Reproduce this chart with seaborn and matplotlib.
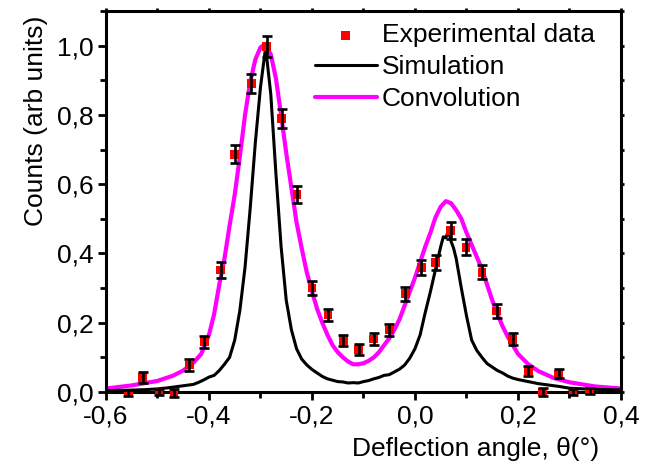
import numpy as np
import pandas as pd
import matplotlib
matplotlib.use("Agg")
import matplotlib.pyplot as plt
from matplotlib.ticker import MultipleLocator, FuncFormatter
import seaborn as sns

# experimental points
exp_x = [-0.557, -0.529, -0.497, -0.468, -0.438, -0.409, -0.377, -0.350, -0.318, -0.288,
         -0.259, -0.229, -0.200, -0.169, -0.139, -0.109, -0.080, -0.050, -0.019, 0.012,
         0.040, 0.069, 0.099, 0.130, 0.159, 0.190, 0.220, 0.248, 0.279, 0.307, 0.339]
exp_y = [-0.003, 0.042, 0.000, -0.003, 0.078, 0.145, 0.352, 0.686, 0.891, 0.998,
         0.790, 0.570, 0.300, 0.222, 0.148, 0.123, 0.153, 0.179, 0.284, 0.359,
         0.373, 0.466, 0.418, 0.346, 0.234, 0.152, 0.061, 0.000, 0.052, 0.000, 0.003]
exp_err = [0.010, 0.016, 0.010, 0.012, 0.017, 0.018, 0.022, 0.026, 0.028, 0.030,
           0.027, 0.025, 0.020, 0.018, 0.016, 0.016, 0.016, 0.017, 0.020, 0.022,
           0.022, 0.024, 0.023, 0.021, 0.019, 0.017, 0.014, 0.012, 0.013, 0.010, 0.008]

# simulation curve
sim_x = [-0.60, -0.56, -0.52, -0.50, -0.48, -0.46, -0.45, -0.44, -0.43, -0.42,
         -0.41, -0.40, -0.39, -0.38, -0.37, -0.36, -0.35, -0.34, -0.33, -0.32,
         -0.31, -0.30, -0.29, -0.28, -0.27, -0.26, -0.25, -0.24, -0.23, -0.22,
         -0.21, -0.20, -0.19, -0.18, -0.17, -0.16, -0.15, -0.14, -0.13, -0.12,
         -0.11, -0.10, -0.09, -0.08, -0.07, -0.06, -0.05, -0.04, -0.03, -0.02,
         -0.01, 0.00, 0.01, 0.02, 0.03, 0.04, 0.05, 0.055, 0.06, 0.065,
         0.07, 0.075, 0.08, 0.09, 0.10, 0.11, 0.12, 0.13, 0.14, 0.15,
         0.16, 0.17, 0.18, 0.19, 0.20, 0.22, 0.24, 0.26, 0.28, 0.30,
         0.34, 0.40]
sim_y = [0.004, 0.005, 0.007, 0.009, 0.012, 0.016, 0.018, 0.020, 0.022, 0.028,
         0.035, 0.043, 0.048, 0.062, 0.080, 0.100, 0.150, 0.236, 0.360, 0.530,
         0.720, 0.880, 0.995, 0.860, 0.630, 0.420, 0.265, 0.180, 0.125, 0.095,
         0.078, 0.065, 0.055, 0.045, 0.038, 0.034, 0.030, 0.029, 0.026, 0.027,
         0.026, 0.030, 0.033, 0.038, 0.042, 0.048, 0.050, 0.058, 0.066, 0.078,
         0.098, 0.125, 0.165, 0.230, 0.290, 0.355, 0.420, 0.448, 0.445, 0.467,
         0.435, 0.415, 0.385, 0.300, 0.220, 0.150, 0.120, 0.100, 0.082, 0.072,
         0.062, 0.055, 0.046, 0.040, 0.036, 0.030, 0.024, 0.020, 0.016, 0.011,
         0.008, 0.006]

# convolution curve
conv_x = [-0.60, -0.55, -0.50, -0.47, -0.45, -0.43, -0.415, -0.40, -0.39, -0.38,
          -0.37, -0.36, -0.35, -0.34, -0.33, -0.32, -0.31, -0.30, -0.295, -0.29,
          -0.28, -0.27, -0.26, -0.25, -0.24, -0.23, -0.22, -0.21, -0.20, -0.19,
          -0.18, -0.17, -0.16, -0.15, -0.14, -0.13, -0.12, -0.11, -0.10, -0.09,
          -0.08, -0.07, -0.06, -0.05, -0.04, -0.03, -0.02, -0.01, 0.00, 0.01,
          0.02, 0.03, 0.04, 0.05, 0.06, 0.07, 0.08, 0.09, 0.10, 0.11,
          0.12, 0.13, 0.14, 0.15, 0.16, 0.17, 0.18, 0.19, 0.20, 0.22,
          0.24, 0.27, 0.30, 0.35, 0.40]
conv_y = [0.010, 0.019, 0.032, 0.047, 0.062, 0.085, 0.110, 0.165, 0.225, 0.310,
          0.385, 0.480, 0.570, 0.680, 0.800, 0.895, 0.960, 0.995, 1.000, 0.998,
          0.975, 0.905, 0.800, 0.690, 0.590, 0.490, 0.415, 0.345, 0.290, 0.240,
          0.200, 0.165, 0.135, 0.115, 0.100, 0.088, 0.080, 0.080, 0.083, 0.090,
          0.100, 0.115, 0.135, 0.155, 0.180, 0.210, 0.250, 0.290, 0.330, 0.375,
          0.420, 0.460, 0.505, 0.535, 0.551, 0.545, 0.525, 0.500, 0.460, 0.425,
          0.390, 0.355, 0.310, 0.265, 0.225, 0.190, 0.160, 0.135, 0.110, 0.080,
          0.060, 0.040, 0.028, 0.016, 0.010]

sns.set_style("ticks")
plt.rcParams['font.family'] = ['Liberation Sans', 'DejaVu Sans']
plt.rcParams['font.size'] = 19
for k in ['text.color', 'axes.labelcolor', 'xtick.color', 'ytick.color', 'axes.edgecolor']:
    plt.rcParams[k] = 'black'

exp_df = pd.DataFrame({'x': exp_x, 'y': exp_y, 'err': exp_err})
sim_df = pd.DataFrame({'x': sim_x, 'y': sim_y})
conv_df = pd.DataFrame({'x': conv_x, 'y': conv_y})

fig = plt.figure(figsize=(6.51, 4.68), dpi=100)
ax = fig.add_axes([0.1628, 0.1624, 0.7911, 0.8141])

sns.lineplot(data=conv_df, x='x', y='y', ax=ax, color='#FF00FF', linewidth=3.0,
             label='Convolution', zorder=2)
sns.lineplot(data=sim_df, x='x', y='y', ax=ax, color='black', linewidth=2.2,
             label='Simulation', zorder=3)
sns.scatterplot(data=exp_df, x='x', y='y', ax=ax, color='#FF0000', marker='s', s=40,
                edgecolor='none', label='Experimental data', zorder=4, clip_on=False)
ax.errorbar(exp_df['x'], exp_df['y'], yerr=exp_df['err'], fmt='none', ecolor='black',
            elinewidth=1.9, capsize=3.6, capthick=1.9, zorder=5, clip_on=False)

ax.set_xlim(-0.6, 0.4)
ax.set_ylim(0, 1.1)

ax.xaxis.set_major_locator(MultipleLocator(0.2))
ax.xaxis.set_minor_locator(MultipleLocator(0.1))
ax.yaxis.set_major_locator(MultipleLocator(0.2))
ax.yaxis.set_minor_locator(MultipleLocator(0.1))
comma = FuncFormatter(lambda v, p: f"{round(v, 1) + 0.0:.1f}".replace('.', ','))
ax.xaxis.set_major_formatter(comma)
ax.yaxis.set_major_formatter(comma)

for s in ax.spines.values():
    s.set_visible(True)
    s.set_linewidth(2.2)
ax.tick_params(which='major', direction='out', length=6, width=2, labelsize=19, pad=3)
ax.tick_params(which='minor', direction='out', length=4.5, width=2)
ax.tick_params(which='both', top=True, right=True, labeltop=False, labelright=False)
# short ticks on the top and right spines
for t in ax.xaxis.get_ticklines(minor=False)[1::2] + ax.yaxis.get_ticklines(minor=False)[1::2]:
    t.set_markersize(2.5)
for t in ax.xaxis.get_ticklines(minor=True)[1::2] + ax.yaxis.get_ticklines(minor=True)[1::2]:
    t.set_markersize(2.5)

ax.set_xlabel('Deflection angle, θ(°)', fontsize=19, ha='center', va='top')
ax.xaxis.set_label_coords(0.718, -0.118)
ax.set_ylabel('Counts (arb units)', fontsize=19)
ax.yaxis.set_label_coords(-0.112, 0.711)

handles, labels = ax.get_legend_handles_labels()
order = [labels.index(n) for n in ['Experimental data', 'Simulation', 'Convolution']]
ax.legend([handles[i] for i in order], [labels[i] for i in order], loc='upper left',
          bbox_to_anchor=(0.405, 0.968), frameon=False, fontsize=19, handlelength=2.35,
          handletextpad=0.2, labelspacing=0.3, borderpad=0, borderaxespad=0)

fig.savefig('out.png', dpi=100)
plt.close(fig)
